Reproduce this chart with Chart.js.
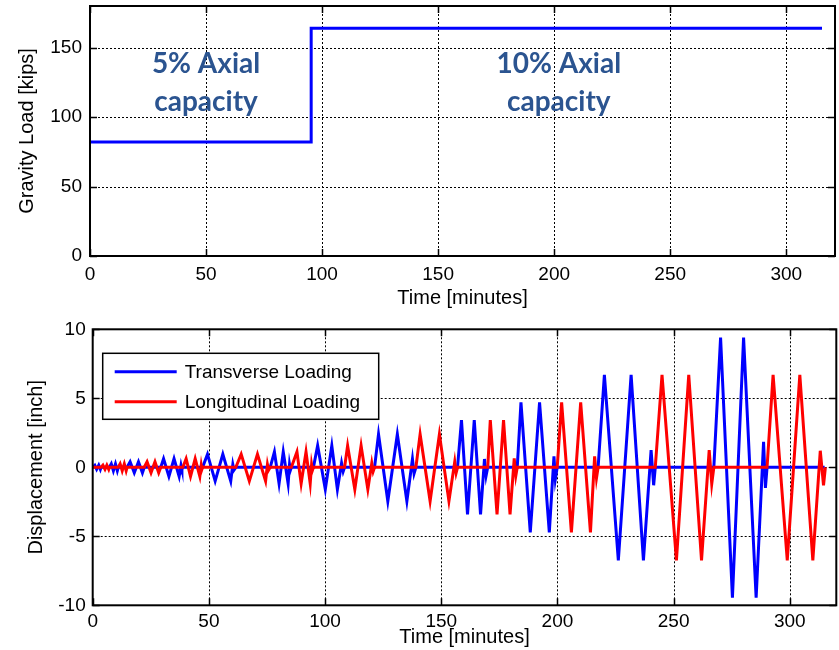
<!DOCTYPE html>
<html><head><meta charset="utf-8">
<script src="https://cdn.jsdelivr.net/npm/chart.js@4/dist/chart.umd.min.js"></script>
<style>
html,body{margin:0;padding:0;background:#fff;}
#wrap{position:relative;width:839px;height:650px;background:#fff;}
.box{position:absolute;left:0;width:839px;}
</style></head><body>
<div id="wrap">
<div class="box" style="top:0;height:320px"><canvas id="c1" width="839" height="320"></canvas></div>
<div class="box" style="top:320px;height:330px"><canvas id="c2" width="839" height="330"></canvas></div>
</div>
<script>
// ---- data ----
const gravityTime = [0, 95.3, 95.3, 315.4];
const gravityLoad = [82, 82, 164, 164];

const transverseTime = [
  0, 0.9, 1.7, 2.6, 3.3, 3.6,
  7.2, 8.0, 8.9, 9.8, 10.6, 11.0,
  14.8, 16.1, 17.9, 19.7, 21.4, 22.2,
  29.3, 30.5, 32.8, 35.0, 37.2, 38.0, 38.4, 38.8,
  47.3, 49.4, 52.7, 56.0, 59.4, 60.3, 60.8, 61.6,
  76.4, 78.2, 80.2, 82.0, 84.1, 84.7, 85.1, 85.5,
  95.0, 96.8, 100.1, 102.9, 105.3, 107.1, 107.8, 108.4,
  121.3, 123.0, 127.0, 131.1, 135.2, 137.6, 138.3, 139.1,
  157.0, 158.7, 161.3, 164.2, 166.9, 168.6, 169.3, 170.0,
  182.7, 184.3, 188.3, 192.3, 196.5, 198.5, 199.1, 199.9,
  217.5, 220.2, 226.2, 231.7, 237.0, 240.3, 241.4, 242.1,
  267.3, 270.2, 275.3, 280.1, 285.5, 288.7, 289.5, 290.2,
  315.0
];
const transverseDisp = [
  0, 0.15, -0.15, 0.15, -0.15, 0,
  0, 0.25, -0.25, 0.25, -0.25, 0,
  0, 0.4, -0.4, 0.4, -0.4, 0,
  0, 0.62, -0.66, 0.62, -0.66, 0.15, -0.15, 0,
  0, 0.95, -1.0, 0.95, -1.0, 0.2, -0.2, 0,
  0, 1.12, -1.18, 1.12, -1.18, 0.2, -0.2, 0,
  0, 1.57, -1.6, 1.57, -1.6, 0.3, -0.3, 0,
  0, 2.4, -2.45, 2.4, -2.45, 0.6, -0.45, 0,
  0, 3.42, -3.42, 3.42, -3.42, 0.6, -0.6, 0,
  0, 4.7, -4.72, 4.7, -4.72, 0.8, -0.85, 0,
  0, 6.7, -6.75, 6.7, -6.75, 1.25, -1.3, 0,
  0, 9.4, -9.45, 9.4, -9.45, 1.85, -1.5, 0,
  0
];
const longitudinalTime = [
  0, 3.6, 4.4, 5.3, 6.1, 6.9, 7.2,
  11.0, 11.8, 12.7, 13.6, 14.4, 14.8,
  22.2, 23.4, 25.1, 26.8, 28.4, 29.3,
  38.8, 40.2, 42.1, 44.1, 46.1, 46.7, 47.0, 47.3,
  61.6, 63.9, 67.4, 70.9, 74.4, 75.2, 75.7, 76.4,
  85.5, 87.9, 89.7, 91.8, 93.6, 94.2, 94.6, 95.0,
  108.4, 109.7, 112.8, 115.5, 118.4, 120.1, 120.7, 121.3,
  139.1, 140.9, 145.2, 149.2, 153.3, 155.8, 156.4, 157.0,
  170.0, 171.1, 174.0, 176.8, 179.6, 181.4, 182.1, 182.7,
  199.9, 201.8, 206.0, 210.0, 214.2, 216.0, 216.8, 217.5,
  242.1, 245.0, 251.2, 256.5, 262.0, 265.3, 266.4, 267.3,
  290.2, 292.8, 298.9, 304.3, 309.9, 313.1, 314.5, 315.3
];
const longitudinalDisp = [
  0, 0, 0.15, -0.15, 0.15, -0.15, 0,
  0, 0.25, -0.25, 0.25, -0.25, 0,
  0, 0.4, -0.4, 0.4, -0.4, 0,
  0, 0.62, -0.66, 0.62, -0.66, 0.15, -0.15, 0,
  0, 0.95, -1.0, 0.95, -1.0, 0.2, -0.2, 0,
  0, 1.12, -1.18, 1.12, -1.18, 0.2, -0.2, 0,
  0, 1.57, -1.6, 1.57, -1.6, 0.3, -0.3, 0,
  0, 2.4, -2.45, 2.4, -2.45, 0.4, -0.4, 0,
  0, 3.42, -3.42, 3.42, -3.42, 0.65, -0.6, 0,
  0, 4.7, -4.72, 4.7, -4.72, 0.8, -0.78, 0,
  0, 6.7, -6.75, 6.7, -6.75, 1.25, -1.2, 0,
  0, 6.7, -6.75, 6.7, -6.75, 1.2, -1.3, 0
];

const timeTicks = [0, 50, 100, 150, 200, 250, 300];
const loadTicks = [0, 50, 100, 150];
const dispTicks = [-10, -5, 0, 5, 10];

const seriesLabels = ['Transverse Loading', 'Longitudinal Loading'];
const annotationTexts = ['5% Axial', 'capacity', '10% Axial', 'capacity'];
const annotationTime = [50, 50, 202, 202];
const annotationLoad = [138, 111, 138, 111];

// ---- helpers ----
const FONT = 'Liberation Sans, Arial, sans-serif';
const toXY = (xs, ys) => xs.map((v, i) => ({x: v, y: ys[i]}));

const matlabAxes = {
  id: 'matlabAxes',
  beforeDatasetsDraw(chart, args, opts) {
    const {ctx, chartArea: a} = chart;
    const xs = chart.scales.x, ys = chart.scales.y;
    ctx.save();
    ctx.strokeStyle = '#000';
    ctx.lineWidth = 1;
    ctx.setLineDash([2, 2]);
    ctx.beginPath();
    opts.xTicks.forEach(v => {
      const p = Math.round(xs.getPixelForValue(v)) + 0.5;
      if (p > a.left + 2 && p < a.right - 2) { ctx.moveTo(p, a.top); ctx.lineTo(p, a.bottom); }
    });
    opts.yTicks.forEach(v => {
      const p = Math.round(ys.getPixelForValue(v)) + 0.5;
      if (p > a.top + 2 && p < a.bottom - 2) { ctx.moveTo(a.left, p); ctx.lineTo(a.right, p); }
    });
    ctx.stroke();
    ctx.setLineDash([]);
    ctx.lineWidth = 1.5;
    ctx.beginPath();
    const tl = 7;
    opts.xTicks.forEach(v => {
      const p = Math.round(xs.getPixelForValue(v)) + 0.5;
      ctx.moveTo(p, a.bottom); ctx.lineTo(p, a.bottom - tl);
      ctx.moveTo(p, a.top); ctx.lineTo(p, a.top + tl);
    });
    opts.yTicks.forEach(v => {
      const p = Math.round(ys.getPixelForValue(v)) + 0.5;
      ctx.moveTo(a.left, p); ctx.lineTo(a.left + tl, p);
      ctx.moveTo(a.right, p); ctx.lineTo(a.right - tl, p);
    });
    ctx.stroke();
    ctx.restore();
  },
  afterDatasetsDraw(chart) {
    const {ctx, chartArea: a} = chart;
    ctx.save();
    ctx.strokeStyle = '#000';
    ctx.lineWidth = 2;
    ctx.strokeRect(a.left, a.top, a.width, a.height);
    ctx.restore();
  }
};

const textNotes = {
  id: 'textNotes',
  afterDraw(chart, args, opts) {
    if (!opts.texts) return;
    const {ctx} = chart;
    ctx.save();
    ctx.fillStyle = '#2B5490';
    ctx.font = 'bold 28px Lato, sans-serif';
    ctx.textAlign = 'center';
    ctx.textBaseline = 'middle';
    opts.texts.forEach((t, i) => {
      ctx.fillText(t, chart.scales.x.getPixelForValue(opts.xs[i]), chart.scales.y.getPixelForValue(opts.ys[i]));
    });
    ctx.restore();
  }
};

const boxLegend = {
  id: 'boxLegend',
  afterDraw(chart, args, opts) {
    if (!opts.show) return;
    const {ctx, chartArea: a} = chart;
    const L = a.left + 10, T = a.top + 24, W = 276, H = 66;
    ctx.save();
    ctx.fillStyle = '#fff';
    ctx.fillRect(L, T, W, H);
    ctx.strokeStyle = '#000';
    ctx.lineWidth = 1.5;
    ctx.strokeRect(L, T, W, H);
    ctx.font = '19px ' + FONT;
    ctx.textBaseline = 'middle';
    ctx.textAlign = 'left';
    chart.data.datasets.forEach((ds, i) => {
      const y = T + 18.5 + i * 30;
      ctx.strokeStyle = ds.borderColor;
      ctx.lineWidth = 3;
      ctx.beginPath();
      ctx.moveTo(L + 12, y); ctx.lineTo(L + 74, y);
      ctx.stroke();
      ctx.fillStyle = '#000';
      ctx.fillText(ds.label, L + 82, y + 1);
    });
    ctx.restore();
  }
};

function makeScales(o) {
  const tickFont = {family: FONT, size: 19};
  const titleFont = {family: FONT, size: 20};
  return {
    x: {
      type: 'linear', min: 0, max: o.xMax,
      afterBuildTicks: s => { s.ticks = timeTicks.map(v => ({value: v})); },
      afterFit: s => { s.height = o.xHeight; s.paddingLeft = 0; s.paddingRight = 0; },
      grid: {display: false, drawTicks: false},
      border: {display: false},
      ticks: {font: tickFont, color: '#000', padding: o.xPad, maxRotation: 0, autoSkip: false},
      title: {display: true, text: 'Time [minutes]', font: titleFont, color: '#000', padding: {top: 0, bottom: o.xTitlePad}}
    },
    y: {
      type: 'linear', min: o.yMin, max: o.yMax,
      afterBuildTicks: s => { s.ticks = o.yTicks.map(v => ({value: v})); },
      afterFit: s => { s.width = o.yWidth; s.paddingTop = 0; s.paddingBottom = 0; },
      grid: {display: false, drawTicks: false},
      border: {display: false},
      ticks: {font: tickFont, color: '#000', padding: o.yPad, autoSkip: false},
      title: {display: true, text: o.yTitle, font: titleFont, color: '#000', padding: {top: o.yTitlePad, bottom: 0}}
    }
  };
}

new Chart(document.getElementById('c1'), {
  type: 'line',
  data: {
    datasets: [{
      label: 'Gravity Load',
      data: toXY(gravityTime, gravityLoad),
      borderColor: '#0000FF', borderWidth: 3, pointRadius: 0, tension: 0, fill: false
    }]
  },
  options: {
    responsive: false, animation: false,
    layout: {padding: {left: 0, right: 4, top: 6, bottom: 0}},
    plugins: {
      legend: {display: false}, tooltip: {enabled: false},
      matlabAxes: {xTicks: timeTicks, yTicks: loadTicks},
      textNotes: {texts: annotationTexts, xs: annotationTime, ys: annotationLoad},
      boxLegend: {show: false}
    },
    scales: makeScales({xMax: 321, xHeight: 64, xPad: 7, xTitlePad: 10, yMin: 0, yMax: 180, yTicks: loadTicks,
      yWidth: 90, yPad: 8, yTitle: 'Gravity Load [kips]', yTitlePad: 15.5})
  },
  plugins: [matlabAxes, textNotes, boxLegend]
});

new Chart(document.getElementById('c2'), {
  type: 'line',
  data: {
    datasets: [{
      label: seriesLabels[0],
      data: toXY(transverseTime, transverseDisp),
      borderColor: '#0000FF', borderWidth: 3, pointRadius: 0, tension: 0, fill: false, order: 2
    }, {
      label: seriesLabels[1],
      data: toXY(longitudinalTime, longitudinalDisp),
      borderColor: '#FF0000', borderWidth: 3, pointRadius: 0, tension: 0, fill: false, order: 1
    }]
  },
  options: {
    responsive: false, animation: false,
    layout: {padding: {left: 0, right: 2.7, top: 9.3, bottom: 0}},
    plugins: {
      legend: {display: false}, tooltip: {enabled: false},
      matlabAxes: {xTicks: timeTicks, yTicks: dispTicks},
      textNotes: {},
      boxLegend: {show: true}
    },
    scales: makeScales({xMax: 320, xHeight: 44.7, xPad: 5, xTitlePad: 1, yMin: -10, yMax: 10, yTicks: dispTicks,
      yWidth: 92.7, yPad: 7, yTitle: 'Displacement [inch]', yTitlePad: 24})
  },
  plugins: [matlabAxes, textNotes, boxLegend]
});
</script>
</body></html>
